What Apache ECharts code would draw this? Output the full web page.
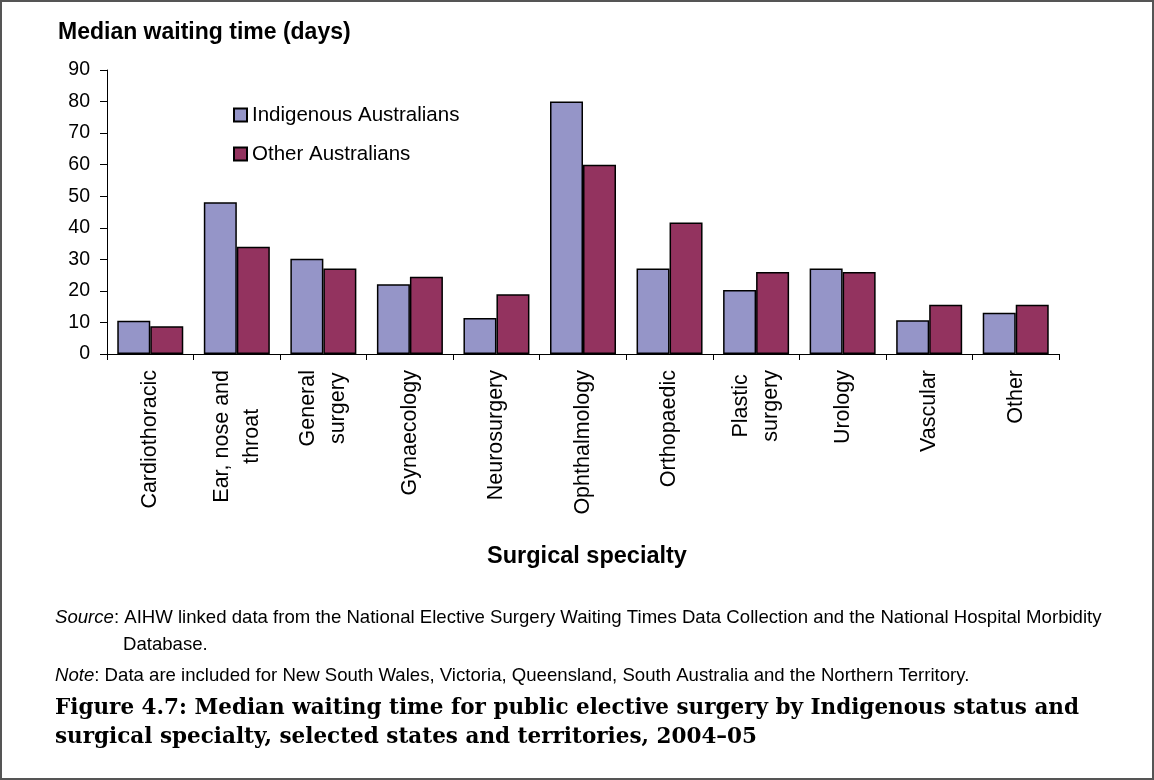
<!DOCTYPE html>
<html>
<head>
<meta charset="utf-8">
<script src="https://cdn.jsdelivr.net/npm/echarts@6/dist/echarts.min.js"></script>
<style>
  html, body { margin: 0; padding: 0; background: #fff; }
  #chart { width: 1154px; height: 780px; }
</style>
</head>
<body>
<div id="chart"></div>
<script>
// ---- Data ----
const categories = ['Cardiothoracic', 'Ear, nose and\nthroat', 'General\nsurgery', 'Gynaecology', 'Neurosurgery', 'Ophthalmology', 'Orthopaedic', 'Plastic\nsurgery', 'Urology', 'Vascular', 'Other'];
const seriesNames = ['Indigenous Australians', 'Other Australians'];
const indigenous = [10.5, 48.1, 30.2, 22.1, 11.4, 80, 27.1, 20.3, 27.1, 10.7, 13.1];
const otherAus = [8.8, 34.0, 27.1, 24.5, 18.9, 60, 41.7, 26.0, 26.0, 15.6, 15.6];
const yMin = 0, yMax = 90, yStep = 10;
const yAxisTitle = 'Median waiting time (days)';
const xAxisTitle = 'Surgical specialty';
const sourceText = '{i|Source}: AIHW linked data from the National Elective Surgery Waiting Times Data Collection and the National Hospital Morbidity';
const sourceText2 = 'Database.';
const noteText = '{i|Note}: Data are included for New South Wales, Victoria, Queensland, South Australia and the Northern Territory.';
const figTitle1 = 'Figure 4.7: Median waiting time for public elective surgery by Indigenous status and';
const figTitle2 = 'surgical specialty, selected states and territories, 2004\u201305';

const SANS = '"Liberation Sans", Arial, sans-serif';
const SERIF = '"DejaVu Serif", "Liberation Serif", serif';
const FOOT = 18.6;

const chart = echarts.init(document.getElementById('chart'), null, { renderer: 'canvas' });

const option = {
  animation: false,
  backgroundColor: '#ffffff',
  grid: { left: 107, right: 95, top: 70, bottom: 426, containLabel: false },
  legend: {
    orient: 'vertical',
    left: 233,
    top: 104.5,
    padding: 0,
    itemWidth: 13,
    itemHeight: 13,
    itemGap: 18,
    icon: 'rect',
    data: seriesNames,
    textStyle: { fontFamily: SANS, fontSize: 20.5, color: '#000', lineHeight: 20 }
  },
  xAxis: {
    type: 'category',
    data: categories,
    boundaryGap: true,
    axisLine: { show: true, lineStyle: { color: '#000', width: 1 } },
    axisTick: { show: true, inside: false, length: 6, alignWithLabel: false, lineStyle: { color: '#000' } },
    splitLine: { show: false },
    axisLabel: {
      interval: 0,
      rotate: 90,
      margin: 16,
      color: '#000',
      fontFamily: SANS,
      fontSize: 21.5,
      formatter: function (v) {
        return v.split('\n').map(function (s) { return '{c|' + s + '}'; }).join('\n');
      },
      rich: {
        c: { align: 'center', fontFamily: SANS, fontSize: 21.5, lineHeight: 30, color: '#000' }
      }
    }
  },
  yAxis: {
    type: 'value',
    min: yMin,
    max: yMax,
    interval: yStep,
    axisLine: { show: true, lineStyle: { color: '#000', width: 1 } },
    axisTick: { show: true, inside: false, length: 7, lineStyle: { color: '#000' } },
    splitLine: { show: false },
    axisLabel: { color: '#000', fontFamily: SANS, fontSize: 19.5, margin: 17 }
  },
  series: [
    {
      name: seriesNames[0],
      type: 'bar',
      data: indigenous,
      barWidth: 33,
      barGap: '0%',
      itemStyle: { color: '#9595C8', borderColor: '#000', borderWidth: 1.5 }
    },
    {
      name: seriesNames[1],
      type: 'bar',
      data: otherAus,
      barWidth: 33,
      barGap: '0%',
      itemStyle: { color: '#93335F', borderColor: '#000', borderWidth: 1.5 }
    }
  ],
  graphic: [
    {
      type: 'rect', silent: true, z: 100,
      shape: { x: 1, y: 1, width: 1152, height: 778 },
      style: { fill: 'none', stroke: '#555', lineWidth: 2 }
    },
    {
      type: 'text', silent: true,
      style: { x: 58, y: 33, text: yAxisTitle, font: 'bold 23px ' + SANS, fill: '#000', align: 'left', verticalAlign: 'middle', textAlign: 'left', textVerticalAlign: 'middle' }
    },
    {
      type: 'text', silent: true,
      style: { x: 587, y: 557, text: xAxisTitle, font: 'bold 23.5px ' + SANS, fill: '#000', align: 'center', verticalAlign: 'middle', textAlign: 'center', textVerticalAlign: 'middle' }
    },
    {
      type: 'text', silent: true,
      style: { x: 55, y: 618, text: sourceText, font: FOOT + 'px ' + SANS, fill: '#000', verticalAlign: 'middle', textVerticalAlign: 'middle',
        rich: { i: { fontStyle: 'italic', fontFamily: SANS, fontSize: FOOT } } }
    },
    {
      type: 'text', silent: true,
      style: { x: 123, y: 645, text: sourceText2, font: FOOT + 'px ' + SANS, fill: '#000', verticalAlign: 'middle', textVerticalAlign: 'middle' }
    },
    {
      type: 'text', silent: true,
      style: { x: 55, y: 676, text: noteText, font: FOOT + 'px ' + SANS, fill: '#000', verticalAlign: 'middle', textVerticalAlign: 'middle',
        rich: { i: { fontStyle: 'italic', fontFamily: SANS, fontSize: FOOT } } }
    },
    {
      type: 'text', silent: true,
      style: { x: 55, y: 708, text: figTitle1, font: 'bold 21.5px ' + SERIF, fill: '#000', verticalAlign: 'middle', textVerticalAlign: 'middle' }
    },
    {
      type: 'text', silent: true,
      style: { x: 55, y: 737, text: figTitle2, font: 'bold 21.5px ' + SERIF, fill: '#000', verticalAlign: 'middle', textVerticalAlign: 'middle' }
    }
  ]
};

chart.setOption(option);
</script>
</body>
</html>
